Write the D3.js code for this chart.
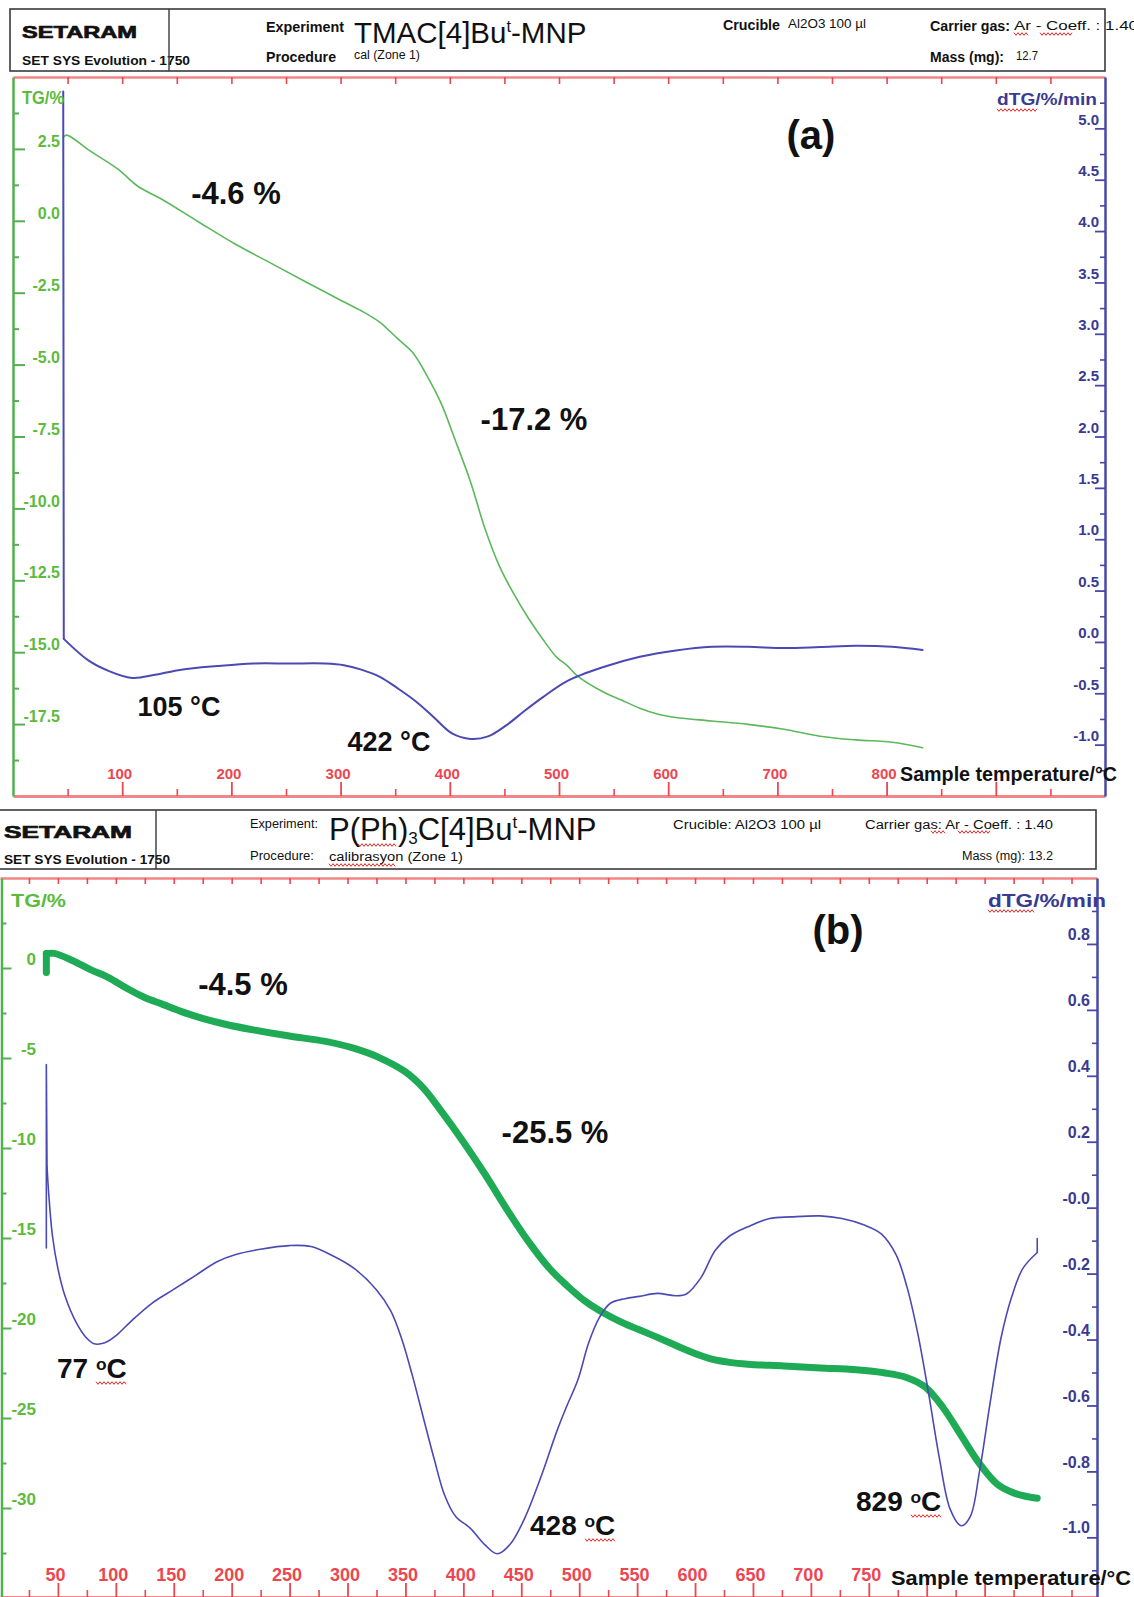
<!DOCTYPE html>
<html>
<head>
<meta charset="utf-8">
<script src="https://cdn.jsdelivr.net/npm/d3@7"></script>
<style>
body { margin: 0; background: #fff; }
svg { display: block; font-family: "Liberation Sans", Arial, sans-serif; }
</style>
</head>
<body>
<svg id="chart" width="1134" height="1597"></svg>
<script>
// ---- panel (a): TMAC[4]But-MNP ----
const aTgTemp = [46, 49, 71, 97, 114, 137, 170, 203, 237, 270,
	300, 319, 336, 352, 366, 379, 392, 405, 419, 432,
	445, 458, 472, 485, 498, 507, 517, 541, 557, 574,
	590, 607, 640, 673, 706, 739, 772, 805, 833];
const aTgVal = [2.9, 2.98, 2.42, 1.77, 1.21, 0.73, -0.04, -0.8, -1.49, -2.16,
	-2.76, -3.13, -3.53, -4.09, -4.58, -5.38, -6.34, -7.63, -9.08, -10.68,
	-11.97, -12.93, -13.82, -14.54, -15.18, -15.45, -15.83, -16.39, -16.66, -16.95,
	-17.15, -17.27, -17.39, -17.51, -17.68, -17.92, -18.05, -18.13, -18.32];
const aDtgTemp = [46, 46.5, 69, 87, 109, 130, 154, 187, 220, 253,
	286, 303, 319, 336, 352, 369, 386, 402, 419, 435,
	452, 468, 485, 507, 540, 574, 607, 640, 673, 706,
	739, 772, 805, 833];
const aDtgVal = [5.36, 0.03, -0.18, -0.28, -0.35, -0.32, -0.27, -0.235, -0.21, -0.21,
	-0.21, -0.226, -0.27, -0.34, -0.45, -0.58, -0.74, -0.89, -0.944, -0.92,
	-0.81, -0.675, -0.54, -0.383, -0.247, -0.145, -0.083, -0.047, -0.047, -0.06,
	-0.05, -0.037, -0.047, -0.078];
const aTempTicks = [100, 200, 300, 400, 500, 600, 700, 800];
const aTgTicks = [2.5, 0, -2.5, -5, -7.5, -10, -12.5, -15, -17.5];
const aDtgTicks = [5, 4.5, 4, 3.5, 3, 2.5, 2, 1.5, 1, 0.5, 0, -0.5, -1];

// ---- panel (b): P(Ph)3C[4]But-MNP ----
const bTgTemp = [40, 40, 46.8, 62.4, 78.1, 93.7, 109.3, 124.9, 140.5, 156.1,
	174.8, 193.6, 218.6, 249.8, 281, 305.9, 327.8, 349.7, 365.3, 380.9,
	399.6, 418.4, 437.1, 455.8, 474.6, 489.5, 505.1, 520.7, 536.3, 551.9,
	567.5, 583.1, 598.8, 614.4, 629.9, 645.6, 676.8, 708, 739.2, 764.3,
	783, 798.5, 814.2, 829.8, 845.4, 861, 876.7, 895.4];
const bTgVal = [-0.25, 0.8, 0.81, 0.42, -0.09, -0.53, -1.12, -1.64, -2.02, -2.41,
	-2.8, -3.11, -3.44, -3.78, -4.08, -4.47, -4.99, -5.76, -6.66, -7.95,
	-9.62, -11.43, -13.36, -15.16, -16.71, -17.65, -18.51, -19.15, -19.67, -20.1,
	-20.52, -20.96, -21.39, -21.73, -21.91, -22.01, -22.11, -22.22, -22.32, -22.5,
	-22.76, -23.27, -24.43, -25.98, -27.52, -28.68, -29.2, -29.46];
const bDtgTemp = [40, 40, 40.6, 42.1, 45.3, 50, 56.2, 65.6, 74.9, 81.2,
	90.5, 99.9, 112.4, 131.1, 149.9, 168.6, 187.3, 202.9, 224.8, 249.8,
	268.5, 287.2, 306, 324.7, 337.2, 346.6, 355.9, 365.3, 374.7, 384,
	393.4, 405.9, 418.4, 429.3, 440.2, 452.7, 468.3, 480.8, 489.5, 498.8,
	508.2, 517.5, 526.9, 539.5, 551.9, 567.5, 583.1, 592.5, 605, 617.5,
	629.9, 645.6, 664.3, 683, 708, 726.8, 745.5, 761, 773.6, 783,
	792.3, 801.7, 811, 820.4, 829.8, 837.6, 845.4, 854.7, 864.1, 873.5,
	882.9, 895.4, 895.4];
const bDtgVal = [-0.122, 0.434, 0.124, 0.04, -0.086, -0.185, -0.269, -0.347, -0.396, -0.413,
	-0.41, -0.389, -0.347, -0.29, -0.248, -0.206, -0.164, -0.143, -0.126, -0.115,
	-0.118, -0.146, -0.185, -0.248, -0.312, -0.396, -0.508, -0.635, -0.761, -0.874,
	-0.937, -0.972, -1.022, -1.05, -1.022, -0.944, -0.804, -0.677, -0.6, -0.523,
	-0.41, -0.333, -0.29, -0.276, -0.269, -0.26, -0.267, -0.262, -0.213, -0.129,
	-0.086, -0.058, -0.033, -0.028, -0.025, -0.033, -0.052, -0.08, -0.143, -0.241,
	-0.382, -0.565, -0.761, -0.916, -0.965, -0.937, -0.804, -0.593, -0.396, -0.269,
	-0.185, -0.136, -0.094];
const bTempTicks = [50, 100, 150, 200, 250, 300, 350, 400, 450, 500, 550, 600, 650, 700, 750];
const bTgTicks = [0, -5, -10, -15, -20, -25, -30];
const bDtgTicks = [0.8, 0.6, 0.4, 0.2, 0, -0.2, -0.4, -0.6, -0.8, -1];
const bDtgTickText = ['0.8', '0.6', '0.4', '0.2', '-0.0', '-0.2', '-0.4', '-0.6', '-0.8', '-1.0'];

/*global d3*/
const svg = d3.select('#chart');
const FONT = '"Liberation Sans", Arial, sans-serif';
const RED = '#ec4650', RED_LINE = '#f28686';
const GREEN = '#52b052', GREEN_TXT = '#5cbb3c';
const BLUE = '#4848aa', BLUE_TXT = '#3a3a92';

function txt(g, x, y, s, o = {}) {
	let t = g.append('text')
		.attr('x', x).attr('y', y).attr('dy', '0.35em')
		.attr('font-size', o.size || 13)
		.attr('font-weight', o.weight || 'normal')
		.attr('fill', o.fill || '#111')
		.attr('text-anchor', o.anchor || 'start')
		.text(s);
	if (o.len) t.attr('textLength', o.len).attr('lengthAdjust', 'spacingAndGlyphs');
	return t;
}

// red spell-check squiggle, like in the original screenshot
function squiggle(g, x1, x2, y) {
	let pts = [];
	for (let x = x1, i = 0; x <= x2; x += 2, i++) pts.push([x, y + (i % 2 ? 1.3 : -1.3)]);
	g.append('path').attr('d', d3.line()(pts))
		.attr('fill', 'none').attr('stroke', '#e02828').attr('stroke-width', 1);
}

// degree written as superscript o (panel b)
function degLabel(g, x, y, num, size) {
	let t = txt(g, x, y, null, { size: size, weight: 'bold' });
	t.append('tspan').text(num + ' ');
	t.append('tspan').text('o').attr('font-size', size * 0.62).attr('dy', -8);
	t.append('tspan').text('C').attr('dy', 8);
}

function drawHeader(h) {
	let g = svg.append('g');
	g.append('rect')
		.attr('x', h.x0).attr('y', h.y0)
		.attr('width', h.x1 - h.x0).attr('height', h.y1 - h.y0)
		.attr('fill', 'none').attr('stroke', '#3a3a3a').attr('stroke-width', 1.6);
	h.items.forEach(it => {
		let t = txt(g, it[0], it[1], it[2], it[3]);
		t.attr('stroke', it[3].heavy ? '#111' : null).attr('stroke-width', it[3].heavy ? 0.7 : null);
	});
	g.append('line')
		.attr('x1', h.sep).attr('x2', h.sep).attr('y1', h.y0).attr('y2', h.y1)
		.attr('stroke', '#3a3a3a').attr('stroke-width', 1.4);
	let t = txt(g, h.titleX, h.titleY, null, { size: h.titleSize });
	h.title.forEach(part => {
		let s = t.append('tspan').text(part[0]);
		if (part[1] === 'sup') s.attr('font-size', h.titleSize * 0.55).attr('dy', -h.titleSize * 0.38);
		if (part[1] === 'sub') s.attr('font-size', h.titleSize * 0.55).attr('dy', h.titleSize * 0.14);
		if (part[1] === 'back') s.attr('dy', h.titleSize * 0.38);
		if (part[1] === 'up') s.attr('dy', -h.titleSize * 0.14);
	});
	h.squiggles.forEach(s => squiggle(g, s[0], s[1], s[2]));
	return g;
}

// straight lead-in / lead-out segments, smooth curve in between
function drawCurve(g, pts, lead, trail, line, smooth, color, width) {
	let n = pts.length;
	let parts = [];
	if (lead) parts.push([pts.slice(0, lead + 1), line]);
	parts.push([pts.slice(lead, n - trail), smooth]);
	if (trail) parts.push([pts.slice(n - trail - 1), line]);
	parts.forEach(pt => {
		g.append('path').datum(pt[0])
			.attr('fill', 'none').attr('stroke', color).attr('stroke-width', width)
			.attr('stroke-linejoin', 'round').attr('stroke-linecap', 'round')
			.attr('d', pt[1]);
	});
}

function drawPanel(p) {
	let g = svg.append('g');
	let x = d3.scaleLinear().domain(p.tDomain).range(p.xRange);
	let yTg = d3.scaleLinear().domain(p.tgDomain).range([p.bottom + p.yPad, p.top]);
	let yDtg = d3.scaleLinear().domain(p.dtgDomain).range([p.bottom + p.yPad, p.top]);

	// top temperature axis (ticks only)
	let gTop = g.append('g').attr('transform', `translate(0,${p.top})`)
		.call(d3.axisBottom(x).tickValues(p.topTicks).tickSize(p.topLen).tickSizeOuter(0).tickFormat(''));
	gTop.attr('color', RED);
	gTop.select('.domain').attr('stroke', RED_LINE).attr('stroke-width', 2.5);
	gTop.selectAll('.tick line').attr('stroke-width', 1.6);

	// bottom temperature axis
	let gX = g.append('g').attr('transform', `translate(0,${p.bottom})`)
		.call(d3.axisTop(x).tickValues(p.majorT).tickSize(14).tickSizeOuter(0)
			.tickFormat(d => p.tLabels.includes(d) ? d : ''));
	gX.attr('color', RED).attr('font-family', FONT).attr('font-size', p.tFont).attr('font-weight', 'bold');
	gX.select('.domain').attr('stroke', RED_LINE).attr('stroke-width', 3);
	gX.selectAll('.tick line').attr('stroke-width', 1.8);
	gX.selectAll('.tick text').attr('x', -3).attr('y', -22).attr('dy', '0.35em').attr('fill', RED);
	g.append('g').attr('transform', `translate(0,${p.bottom})`)
		.call(d3.axisTop(x).tickValues(p.minorT).tickSize(7).tickFormat(''))
		.attr('color', RED)
		.call(s => s.select('.domain').remove())
		.selectAll('.tick line').attr('stroke-width', 1.6);

	// TG axis (left, green)
	let gTg = g.append('g').attr('transform', `translate(${p.tgX},0)`)
		.call(d3.axisRight(yTg).tickValues(p.tgTicks).tickSize(p.tgLen).tickSizeOuter(0).tickFormat(p.tgFmt));
	gTg.attr('color', GREEN).attr('font-family', FONT).attr('font-size', p.tgFont).attr('font-weight', 'bold');
	gTg.select('.domain').attr('stroke-width', 2.5);
	gTg.selectAll('.tick line').attr('stroke-width', 2);
	gTg.selectAll('.tick text').attr('x', p.tgLabelX).attr('y', -p.tgLift).attr('dy', '0.35em')
		.attr('text-anchor', 'end').attr('fill', GREEN_TXT);
	g.append('g').attr('transform', `translate(${p.tgX},0)`)
		.call(d3.axisRight(yTg).tickValues(p.tgMinor).tickSize(p.tgLen / 2).tickFormat(''))
		.attr('color', GREEN)
		.call(s => s.select('.domain').remove())
		.selectAll('.tick line').attr('stroke-width', 2);

	// dTG axis (right, blue)
	let gD = g.append('g').attr('transform', `translate(${p.dtgX},0)`)
		.call(d3.axisLeft(yDtg).tickValues(p.dtgTicks).tickSize(10).tickSizeOuter(0).tickFormat(p.dtgFmt));
	gD.attr('color', BLUE).attr('font-family', FONT).attr('font-size', p.dtgFont).attr('font-weight', 'bold');
	gD.select('.domain').attr('stroke-width', 2.5);
	gD.selectAll('.tick line').attr('stroke-width', 1.8);
	gD.selectAll('.tick text').attr('x', p.dtgLabelX).attr('y', -p.dtgLift).attr('dy', '0.35em').attr('fill', BLUE_TXT);
	g.append('g').attr('transform', `translate(${p.dtgX},0)`)
		.call(d3.axisLeft(yDtg).tickValues(p.dtgMinor).tickSize(5).tickFormat(''))
		.attr('color', BLUE)
		.call(s => s.select('.domain').remove())
		.selectAll('.tick line').attr('stroke-width', 1.6);

	// curves
	let smooth = d3.curveCatmullRom.alpha(0.5);
	let tgStraight = d3.line().x(d => x(d[0])).y(d => yTg(d[1]));
	let tgSmooth = d3.line().x(d => x(d[0])).y(d => yTg(d[1])).curve(smooth);
	let dStraight = d3.line().x(d => x(d[0])).y(d => yDtg(d[1]));
	let dSmooth = d3.line().x(d => x(d[0])).y(d => yDtg(d[1])).curve(smooth);
	drawCurve(g, d3.zip(p.tgT, p.tgV), p.tgLead, 0, tgStraight, tgSmooth, p.tgColor, p.tgWidth);
	drawCurve(g, d3.zip(p.dtgT, p.dtgV), p.dtgLead, p.dtgTrail, dStraight, dSmooth, '#4a4ab4', p.dtgWidth);

	// axis titles
	txt(g, p.tgTitle[0], p.tgTitle[1], 'TG/%', { size: p.tgTitle[2], weight: 'bold', fill: GREEN_TXT, len: p.tgTitle[3] });
	txt(g, p.dtgTitle[0], p.dtgTitle[1], 'dTG/%/min', { size: p.dtgTitle[2], weight: 'bold', fill: BLUE_TXT, len: p.dtgTitle[3] });
	squiggle(g, p.dtgTitle[0], p.dtgTitle[0] + p.dtgTitle[3] * 0.4, p.dtgTitle[1] + 11);
	txt(g, p.sampleTitle[0], p.sampleTitle[1], 'Sample temperature/°C',
		{ size: p.sampleTitle[2], weight: 'bold', len: p.sampleTitle[3] });

	// annotations
	p.notes.forEach(n => txt(g, n[0], n[1], n[2], { size: n[3], weight: 'bold', anchor: 'middle' }));
	return g;
}

// ---------- headers ----------
drawHeader({
	x0: 10, y0: 9, x1: 1105, y1: 71, sep: 169,
	items: [
		[22, 32, 'SETARAM', { size: 17, weight: 'bold', len: 115, heavy: true }],
		[22, 61, 'SET SYS Evolution - 1750', { size: 12.5, weight: 'bold', len: 168 }],
		[266, 27, 'Experiment', { size: 14, weight: 'bold', len: 78 }],
		[266, 57, 'Procedure', { size: 14, weight: 'bold', len: 70 }],
		[354, 55, 'cal (Zone 1)', { size: 12.5, len: 66 }],
		[723, 25, 'Crucible', { size: 14, weight: 'bold', len: 57 }],
		[788, 24, 'Al2O3 100 µl', { size: 12.5, len: 78 }],
		[930, 26, 'Carrier gas:', { size: 14, weight: 'bold', len: 80 }],
		[1014, 26, 'Ar - Coeff. : 1.40', { size: 12.5, len: 124 }],
		[930, 57, 'Mass (mg):', { size: 14, weight: 'bold', len: 74 }],
		[1016, 56, '12.7', { size: 12.5, len: 22 }]
	],
	titleX: 354, titleY: 33, titleSize: 29.5,
	title: [['TMAC[4]Bu'], ['t', 'sup'], ['-MNP', 'back']],
	squiggles: [[1014, 1028, 34], [1040, 1072, 34]]
});

drawHeader({
	x0: -1, y0: 810, x1: 1096, y1: 869, sep: 156,
	items: [
		[4, 832, 'SETARAM', { size: 17, weight: 'bold', len: 128, heavy: true }],
		[4, 860, 'SET SYS Evolution  -  1750', { size: 12.5, weight: 'bold', len: 166 }],
		[250, 824, 'Experiment:', { size: 12.5, len: 68 }],
		[250, 856, 'Procedure:', { size: 12.5, len: 64 }],
		[329, 857, 'calibrasyon (Zone  1)', { size: 12, len: 134 }],
		[673, 825, 'Crucible: Al2O3 100  µl', { size: 12, len: 148 }],
		[865, 825, 'Carrier gas:  Ar - Coeff. : 1.40', { size: 12, len: 188 }],
		[962, 856, 'Mass (mg):   13.2', { size: 12, len: 91 }]
	],
	titleX: 329, titleY: 829, titleSize: 31,
	title: [['P(Ph)'], ['3', 'sub'], ['C[4]Bu', 'up'], ['t', 'sup'], ['-MNP', 'back']],
	squiggles: [[358, 396, 845], [329, 396, 865], [931, 945, 832], [958, 990, 832]]
});

// ---------- panel (a) ----------
drawPanel({
	tDomain: [0, 1000], xRange: [13, 1105],
	top: 77, bottom: 796, yPad: 0,
	tgDomain: [-20, 5], dtgDomain: [-1.5, 5.5],
	topTicks: d3.range(50, 1000, 50), topLen: 7,
	majorT: d3.range(100, 1000, 100), minorT: d3.range(50, 1000, 100),
	tLabels: aTempTicks, tFont: 15,
	tgX: 13, tgTicks: aTgTicks, tgMinor: d3.range(-18.75, 4, 2.5), tgLen: 12,
	tgFmt: d => d.toFixed(1), tgFont: 16, tgLabelX: 47, tgLift: 8,
	dtgX: 1105, dtgTicks: aDtgTicks, dtgMinor: d3.range(-1.25, 5.4, 0.5),
	dtgFmt: d => d.toFixed(1), dtgFont: 15, dtgLabelX: -6, dtgLift: 9.5,
	tgTitle: [22, 98, 18, 42], dtgTitle: [997, 99, 16, 100],
	sampleTitle: [900, 774, 19.5, 217],
	tgT: aTgTemp, tgV: aTgVal, tgColor: '#5cb85c', tgWidth: 1.6, tgLead: 0,
	dtgT: aDtgTemp, dtgV: aDtgVal, dtgWidth: 2, dtgLead: 1, dtgTrail: 0,
	notes: [
		[811, 135, '(a)', 40],
		[236, 193, '-4.6 %', 31],
		[534, 419, '-17.2 %', 31],
		[179, 707, '105 °C', 27],
		[389, 742, '422 °C', 27]
	]
});

// ---------- panel (b) ----------
let pb = drawPanel({
	tDomain: [0, 947], xRange: [0, 1097],
	top: 878, bottom: 1597, yPad: 1,
	tgDomain: [-35, 5], dtgDomain: [-1.184, 1.0],
	topTicks: d3.range(25, 947, 25), topLen: 6,
	majorT: d3.range(50, 947, 50), minorT: d3.range(25, 947, 50),
	tLabels: bTempTicks, tFont: 18,
	tgX: 1.5, tgTicks: bTgTicks, tgMinor: d3.range(-32.5, 4, 5), tgLen: 10,
	tgFmt: d => String(d), tgFont: 17, tgLabelX: 34.5, tgLift: 9,
	dtgX: 1097, dtgTicks: bDtgTicks, dtgMinor: d3.range(-1.1, 1.0, 0.2),
	dtgFmt: (d, i) => bDtgTickText[i], dtgFont: 16, dtgLabelX: -7, dtgLift: 10,
	tgTitle: [11, 900, 19, 55], dtgTitle: [988, 900, 19, 118],
	sampleTitle: [891, 1578, 21, 240],
	tgT: bTgTemp, tgV: bTgVal, tgColor: '#1faa55', tgWidth: 7, tgLead: 1,
	dtgT: bDtgTemp, dtgV: bDtgVal, dtgWidth: 1.6, dtgLead: 2, dtgTrail: 1,
	notes: [
		[838, 930, '(b)', 40],
		[243, 984, '-4.5 %', 31],
		[555, 1132, '-25.5 %', 31]
	]
});
degLabel(pb, 57, 1368, '77', 28);
degLabel(pb, 530, 1525, '428', 28);
degLabel(pb, 856, 1501, '829', 28);
squiggle(pb, 96, 127, 1383);
squiggle(pb, 585, 615, 1540);
squiggle(pb, 911, 941, 1516);
</script>
</body>
</html>
